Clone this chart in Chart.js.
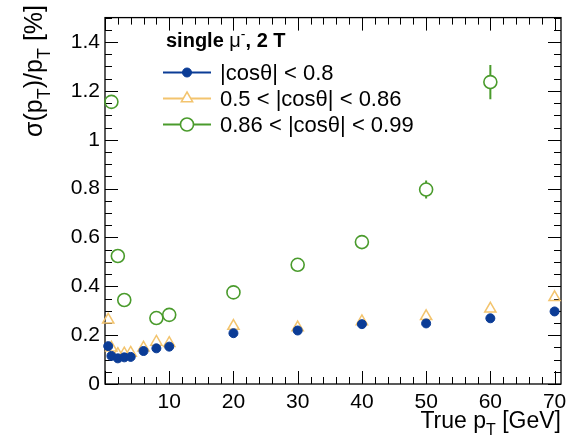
<!DOCTYPE html>
<html>
<head>
<meta charset="utf-8">
<script src="https://cdn.jsdelivr.net/npm/chart.js@4"></script>
<style>
  html, body { margin: 0; padding: 0; background: #fff; }
  #wrap { width: 575px; height: 448px; position: relative; }
</style>
</head>
<body>
<div id="wrap"><canvas id="c"></canvas></div>
<script>
// values (pT in GeV, resolution in %)
const ptBarrel = [0.5, 1, 2, 3, 4, 6, 8, 10, 20, 30, 40, 50, 60, 70];
const resBarrel = [0.155, 0.115, 0.105, 0.109, 0.111, 0.135, 0.146, 0.153, 0.208, 0.219, 0.245, 0.248, 0.269, 0.297];
const ptMid = [0.5, 1, 2, 3, 4, 6, 8, 10, 20, 30, 40, 50, 60, 70];
const resMid = [0.263, 0.148, 0.122, 0.124, 0.127, 0.148, 0.172, 0.167, 0.237, 0.231, 0.256, 0.277, 0.308, 0.355];
const ptFwd = [1, 2, 3, 8, 10, 20, 30, 40, 50, 60];
const resFwd = [1.155, 0.524, 0.344, 0.270, 0.283, 0.375, 0.488, 0.581, 0.796, 1.236];
const errFwd = [0.01, 0.005, 0.004, 0.004, 0.004, 0.006, 0.008, 0.01, 0.037, 0.07];

const xTicks = [10, 20, 30, 40, 50, 60, 70];
const yTicks = [0, 0.2, 0.4, 0.6, 0.8, 1, 1.2, 1.4];
const labels = ['|cosθ| < 0.8', '0.5 < |cosθ| < 0.86', '0.86 < |cosθ| < 0.99'];

const BLUE = '#0b3c96', GOLD = '#f3c46e', GREEN = '#4a9b2c';
const FONT = '"Liberation Sans", Arial, Helvetica, sans-serif';

const pts = (xs, ys) => xs.map((x, i) => ({ x, y: ys[i] }));

// draw a run of text parts with sub/superscripts
function richText(ctx, parts, size, x, y, align) {
  const meas = p => {
    ctx.font = (p.bold ? 'bold ' : '') + Math.round(p.sub || p.sup ? size * 0.7 : size) + 'px ' + FONT;
    return ctx.measureText(p.t).width;
  };
  let w = 0; parts.forEach(p => { w += meas(p); });
  let cx = align === 'right' ? x - w : x;
  parts.forEach(p => {
    const pw = meas(p);
    const dy = p.sub ? size * 0.3 : p.sup ? -size * 0.4 : 0;
    ctx.fillText(p.t, cx, y + dy);
    cx += pw;
  });
}

const frame = {
  id: 'frame',
  beforeDatasetsDraw(chart) {
    const { ctx, chartArea: a, scales: { x, y } } = chart;
    ctx.save();
    ctx.strokeStyle = '#000'; ctx.lineWidth = 1.3;
    ctx.strokeRect(a.left, a.top, a.right - a.left, a.bottom - a.top);
    ctx.lineWidth = 1;
    ctx.beginPath();
    for (let v = 0; v <= x.max; v += 2) {
      const px = Math.round(x.getPixelForValue(v)) + 0.5, L = v % 10 === 0 ? 13 : 7;
      ctx.moveTo(px, a.bottom); ctx.lineTo(px, a.bottom - L);
      ctx.moveTo(px, a.top); ctx.lineTo(px, a.top + L);
    }
    for (let k = 0; k * 0.05 <= y.max + 1e-9; k++) {
      const py = Math.round(y.getPixelForValue(k * 0.05)) + 0.5, L = k % 4 === 0 ? 13 : 7;
      ctx.moveTo(a.left, py); ctx.lineTo(a.left + L, py);
      ctx.moveTo(a.right, py); ctx.lineTo(a.right - L, py);
    }
    ctx.stroke();
    ctx.restore();
  },
  afterDatasetsDraw(chart) {
    const { ctx, scales: { x, y } } = chart;
    // error bars of the forward series
    ctx.save();
    ctx.strokeStyle = GREEN; ctx.lineWidth = 2;
    ptFwd.forEach((p, i) => {
      const px = x.getPixelForValue(p);
      const y1 = y.getPixelForValue(resFwd[i] + errFwd[i]), y0 = y.getPixelForValue(resFwd[i] - errFwd[i]);
      const c = y.getPixelForValue(resFwd[i]);
      if (c - y1 > 6.5) {
        ctx.beginPath();
        ctx.moveTo(px, y1); ctx.lineTo(px, c - 6.5);
        ctx.moveTo(px, c + 6.5); ctx.lineTo(px, y0);
        ctx.stroke();
      }
    });
    ctx.restore();
  },
  afterDraw(chart) {
    const { ctx } = chart;
    ctx.save();
    ctx.fillStyle = '#000'; ctx.textBaseline = 'alphabetic';
    // axis titles
    richText(ctx, [{ t: 'True p' }, { t: 'T', sub: true }, { t: ' [GeV]' }], 23, 561, 428, 'right');
    ctx.translate(42, 5); ctx.rotate(-Math.PI / 2);
    richText(ctx, [{ t: 'σ(p' }, { t: 'T', sub: true }, { t: ')/p' }, { t: 'T', sub: true }, { t: ' [%]' }], 25, 0, 0, 'right');
    ctx.setTransform(1, 0, 0, 1, 0, 0);
    // legend
    richText(ctx, [{ t: 'single ', bold: true }, { t: 'μ' }, { t: '-', sup: true }, { t: ', 2 T', bold: true }], 20, 166, 47, 'left');
    chart.data.datasets.forEach((ds, i) => {
      const yy = 72.5 + i * 26;
      ctx.strokeStyle = ds.borderColor; ctx.lineWidth = 2;
      ctx.beginPath(); ctx.moveTo(163, yy); ctx.lineTo(211, yy); ctx.stroke();
      ctx.strokeStyle = ds.borderColor; ctx.fillStyle = i === 0 ? BLUE : '#fff';
      ctx.lineWidth = ds.pointBorderWidth;
      ctx.beginPath();
      const r = ds.pointRadius;
      if (ds.pointStyle === 'circle') ctx.arc(187, yy, r, 0, Math.PI * 2);
      else {
        ctx.moveTo(187, yy - r); ctx.lineTo(187 + r * 0.87, yy + r * 0.5); ctx.lineTo(187 - r * 0.87, yy + r * 0.5); ctx.closePath();
      }
      ctx.fill(); ctx.stroke();
      ctx.fillStyle = '#000';
      ctx.font = '22px ' + FONT; ctx.textBaseline = 'middle';
      ctx.fillText(labels[i], 220, yy + 1);
      ctx.textBaseline = 'alphabetic';
    });
    ctx.restore();
  }
};

new Chart(document.getElementById('c'), {
  type: 'scatter',
  data: {
    datasets: [
      { label: labels[0], data: pts(ptBarrel, resBarrel), pointStyle: 'circle', pointRadius: 4.5, pointBorderWidth: 1,
        borderColor: BLUE, backgroundColor: BLUE, clip: false },
      { label: labels[1], data: pts(ptMid, resMid), pointStyle: 'triangle', pointRadius: 6.5, pointBorderWidth: 1.5,
        borderColor: GOLD, backgroundColor: 'rgba(255,255,255,0)', clip: false },
      { label: labels[2], data: pts(ptFwd, resFwd), pointStyle: 'circle', pointRadius: 6.5, pointBorderWidth: 1.6,
        borderColor: GREEN, backgroundColor: 'rgba(255,255,255,0)', clip: false },
    ]
  },
  options: {
    responsive: true, maintainAspectRatio: false, animation: false,
    layout: { padding: { top: 7, right: 14, left: 0, bottom: 0 } },
    plugins: { legend: { display: false }, tooltip: { enabled: false } },
    scales: {
      x: {
        type: 'linear', min: 0, max: 71,
        afterFit: s => { s.height = 64; },
        afterBuildTicks: s => { s.ticks = xTicks.map(v => ({ value: v })); },
        grid: { display: false, drawTicks: false }, border: { display: false },
        ticks: { color: '#000', padding: 6, maxRotation: 0, font: { family: FONT, size: 21 } }
      },
      y: {
        min: 0, max: 1.5,
        afterFit: s => { s.width = 105; },
        afterBuildTicks: s => { s.ticks = yTicks.map(v => ({ value: v })); },
        grid: { display: false, drawTicks: false }, border: { display: false },
        ticks: { color: '#000', padding: 5, font: { family: FONT, size: 21 }, callback: v => String(+v.toFixed(1)) }
      }
    }
  },
  plugins: [frame]
});
</script>
</body>
</html>
